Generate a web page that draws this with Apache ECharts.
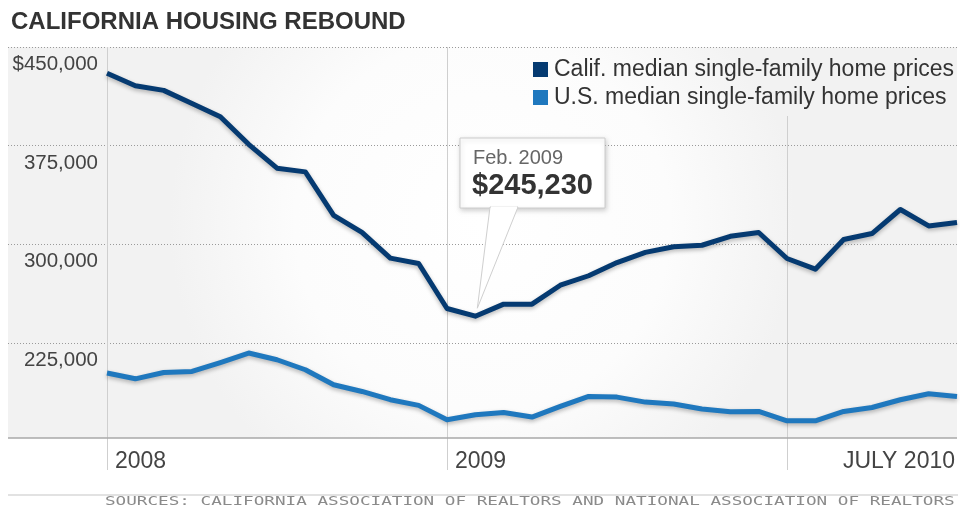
<!DOCTYPE html>
<html>
<head>
<meta charset="utf-8">
<script src="https://cdn.jsdelivr.net/npm/echarts@6/dist/echarts.min.js"></script>
<style>
html,body{margin:0;padding:0;background:#fff;}
#chart{width:960px;height:510px;}
</style>
</head>
<body>
<div id="chart"></div>
<script>
// ---- data ----
const months = [
  "Jan 2008","Feb 2008","Mar 2008","Apr 2008","May 2008","Jun 2008","Jul 2008","Aug 2008","Sep 2008","Oct 2008","Nov 2008","Dec 2008",
  "Jan 2009","Feb 2009","Mar 2009","Apr 2009","May 2009","Jun 2009","Jul 2009","Aug 2009","Sep 2009","Oct 2009","Nov 2009","Dec 2009",
  "Jan 2010","Feb 2010","Mar 2010","Apr 2010","May 2010","Jun 2010","Jul 2010"
];
const califPrices = [430000,420500,417000,407000,397000,376000,357800,355000,322000,309000,289400,285300,
  251100,245230,254400,254400,268800,276000,286000,293800,298100,299200,306000,308900,
  289100,281000,303600,308100,326400,313900,316500];
const usPrices = [202000,197600,202400,203200,210000,217200,212100,204500,193100,188000,181700,177400,
  166500,170300,172000,168500,176600,184200,183700,179900,178400,174600,172600,172800,
  165700,165700,172800,175800,181700,186200,184200];
const seriesNames = ["Calif. median single-family home prices","U.S. median single-family home prices"];
const yTickValues = [225000,300000,375000,450000];
const yTickLabels = ["225,000","300,000","375,000","$450,000"];
const xLabelTexts = ["2008","2009","JULY 2010"];
const xLabelIndex = [0,12,30];
const yearLineIndex = [0,12,24];
const baselineValue = 152500;
const calloutIndex = 13;
const calloutDate = "Feb. 2009";
const calloutValue = "$245,230";
const titleText = "CALIFORNIA HOUSING REBOUND";
const sourceText = "SOURCES: CALIFORNIA ASSOCIATION OF REALTORS AND NATIONAL ASSOCIATION OF REALTORS";

const FONT = '"Liberation Sans", Arial, Helvetica, sans-serif';
const CAL_COLOR = '#053a71';
const US_COLOR = '#1f78be';

const chart = echarts.init(document.getElementById('chart'), null, {renderer:'canvas'});

const lineShadow = {shadowBlur:4, shadowColor:'rgba(0,0,0,0.28)', shadowOffsetY:2};

chart.setOption({
  animation:false,
  backgroundColor:'#ffffff',
  textStyle:{fontFamily:FONT},
  title:{
    text:titleText, left:6, top:5,
    textStyle:{fontFamily:FONT, fontSize:24, fontWeight:'bold', color:'#333333'}
  },
  legend:{
    left:528, top:53, orient:'vertical', itemWidth:15, itemHeight:15, itemGap:5,
    icon:'rect',
    textStyle:{fontFamily:FONT, fontSize:23, color:'#333333', padding:[0,0,0,1]},
    data:seriesNames
  },
  grid:{left:8, right:3, top:47, bottom:68.6, containLabel:false},
  xAxis:{
    type:'value', min:-3.494, max:30, show:false
  },
  yAxis:{
    type:'value', min:150000, max:450000, interval:75000,
    axisLine:{show:false}, axisTick:{show:false},
    splitLine:{show:true, showMinLine:false, lineStyle:{type:[1,2], color:'#9a9a9a', width:1}},
    axisLabel:{
      inside:true, margin:90, align:'right', verticalAlign:'top',
      padding:[7,0,0,0],
      fontFamily:FONT, fontSize:20.5, color:'#444444',
      showMinLabel:false,
      formatter:function(v){ const k = yTickValues.indexOf(v); return k>=0 ? yTickLabels[k] : ''; }
    }
  },
  series:[
    {
      name:seriesNames[0], type:'line', symbol:'none', z:3,
      itemStyle:{color:CAL_COLOR},
      lineStyle:Object.assign({color:CAL_COLOR, width:5, join:'round'}, lineShadow),
      data:califPrices.map((v,i)=>[i,v]),
      markLine:{
        silent:true, symbol:'none', label:{show:false},
        lineStyle:{type:'solid', color:'#a8a8a8', width:1.5},
        data:[{yAxis:baselineValue}]
      }
    },
    {
      name:seriesNames[1], type:'line', symbol:'none', z:3,
      itemStyle:{color:US_COLOR},
      lineStyle:Object.assign({color:US_COLOR, width:5, join:'round'}, lineShadow),
      data:usPrices.map((v,i)=>[i,v])
    }
  ]
});

// ---- graphics positioned through the chart's own scales ----
const P = (x,y)=>chart.convertToPixel({xAxisIndex:0, yAxisIndex:0}, [x,y]);
const topLeft = P(-3.494, 450000);
const botRight = P(30, baselineValue);
const g = [];

// plot background
g.push({
  type:'rect', z:-10, silent:true,
  shape:{x:topLeft[0], y:topLeft[1], width:botRight[0]-topLeft[0], height:botRight[1]-topLeft[1]},
  style:{fill:{type:'radial', x:0.5, y:0.45, r:0.8,
    colorStops:[{offset:0,color:'#ffffff'},{offset:0.6,color:'#fcfcfc'},{offset:1,color:'#f2f2f2'}]}}
});

// year lines
yearLineIndex.forEach((idx,k)=>{
  const px = Math.round(P(idx, 450000)[0]) + 0.5;
  const yTop = (k===2) ? 116 : topLeft[1];
  g.push({type:'line', z:1, silent:true,
    shape:{x1:px, y1:yTop, x2:px, y2:470},
    style:{stroke:'#cfcfcf', lineWidth:1}});
});

// x labels
xLabelTexts.forEach((t,k)=>{
  const px = P(xLabelIndex[k], 450000)[0];
  const last = (k===xLabelTexts.length-1);
  g.push({type:'text', z:5, x: last ? px-2 : px+8, y:462,
    style:{text:t, font:'23px ' + FONT, fill:'#444444',
      textAlign: last ? 'right':'left', textVerticalAlign:'middle'}});
});

// callout
const pt = P(calloutIndex, califPrices[calloutIndex]);
const bx = 460, by = 138, bw = 145, bh = 70;
g.push({type:'rect', z:20, silent:true,
  shape:{x:bx, y:by, width:bw, height:bh},
  style:{fill:'#ffffff', stroke:'#cccccc', lineWidth:1, shadowBlur:5, shadowColor:'rgba(0,0,0,0.18)', shadowOffsetX:1, shadowOffsetY:2}});
g.push({type:'polygon', z:21, silent:true,
  shape:{points:[[490, by+bh-1],[518, by+bh-1],[pt[0]+2, pt[1]-8]]},
  style:{fill:'#ffffff', stroke:'#cfcfcf', lineWidth:1}});
g.push({type:'line', z:22, silent:true,
  shape:{x1:491, y1:by+bh-0.5, x2:517, y2:by+bh-0.5},
  style:{stroke:'#ffffff', lineWidth:2}});
g.push({type:'text', z:23, x:473, y:158,
  style:{text:calloutDate, font:'20px ' + FONT, fill:'#666666', textVerticalAlign:'middle'}});
g.push({type:'text', z:23, x:472, y:186,
  style:{text:calloutValue, font:'bold 29px ' + FONT, fill:'#333333', textVerticalAlign:'middle'}});

// source separator and text
g.push({type:'line', z:1, silent:true,
  shape:{x1:8, y1:495, x2:958, y2:495}, style:{stroke:'#e2e2e2', lineWidth:2}});
g.push({type:'text', z:5, x:105, y:502, scaleX:1.357,
  style:{text:sourceText, font:'13px "DejaVu Sans Mono", monospace', fill:'#8a8a8a', textVerticalAlign:'middle'}});

chart.setOption({graphic:{elements:g}});
</script>
</body>
</html>
